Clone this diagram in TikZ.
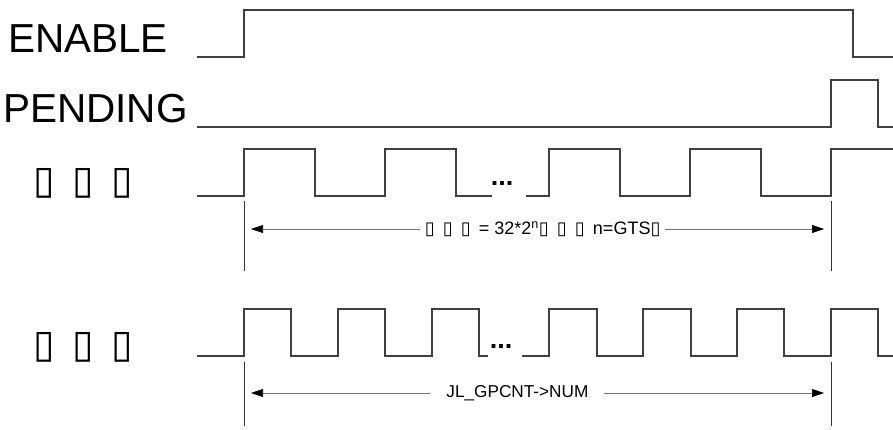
\documentclass[tikz,border=0pt]{standalone}
\usepackage{fontspec}
\setmainfont{Liberation Sans}
\newfontfamily\symfont{DejaVu Sans}
\usetikzlibrary{arrows.meta}
% placeholder glyph, as the chart prints it
\newcommand{\tofu}{\makebox[1em][l]{\symfont ▯}}
\tikzset{
  % signal traces
  wave/.style={draw=black!75, line width=1.3pt},
  % vertical markers
  marker/.style={draw=black!80, line width=1pt},
  % interval arrows
  spanarrow/.style={draw=black!55, line width=0.6pt,
    {Triangle[length=12pt,width=8pt,color=black]}-{Triangle[length=12pt,width=8pt,color=black]}},
  sig/.style={font=\fontsize{40.5}{40.5}\selectfont, anchor=base west, inner sep=0pt},
  note/.style={font=\fontsize{18}{18}\selectfont, fill=white, inner xsep=5pt, inner ysep=2pt},
  dots/.style={font=\fontsize{27}{27}\selectfont\bfseries, anchor=base, inner sep=0pt},
}
\begin{document}
\begin{tikzpicture}[x=1pt, y=-1pt]
  \useasboundingbox (0,0) rectangle (893,429);

  % signal names
  \node[sig] (enable) at (8,52) {ENABLE};
  \node[sig] (pending) at (3,122) {PENDING};
  \node[sig, font=\fontsize{39}{39}\selectfont] (clka) at (33,193) {\tofu\tofu\tofu};
  \node[sig, font=\fontsize{39}{39}\selectfont] (clkb) at (33,357) {\tofu\tofu\tofu};

  % ENABLE and PENDING
  \draw[wave] (197,57) -| (244,10) -| (853,57) -- (893,57);
  \draw[wave] (197,127) -| (831,80) -| (878,127) -- (893,127);

  % slow clock
  \draw[wave] (197,196) -| (244,149) -| (315,196) -| (385,149) -| (456,196) -- (492,196);
  \draw[wave] (526,196) -| (549,149) -| (620,196) -| (690,149) -| (761,196) -| (831,149) -- (893,149);
  \node[dots] (dotsa) at (502,185) {...};

  % fast clock
  \draw[wave] (197,356) -| (244,309) -| (291,356) -| (338,309) -| (385,356) -| (432,309) -| (479,356) -- (488,356);
  \draw[wave] (522,356) -| (549,309) -| (597,356) -| (643,309) -| (691,356) -| (737,309) -| (784,356) -| (831,309) -| (878,356) -- (893,356);
  \node[dots] (dotsb) at (501,348) {...};

  % markers
  \coordinate (m1t) at (244,201);
  \coordinate (m1b) at (244,271);
  \coordinate (m2t) at (831,201);
  \coordinate (m2b) at (831,271);
  \coordinate (m3t) at (244,362);
  \coordinate (m3b) at (244,426);
  \coordinate (m4t) at (831,362);
  \coordinate (m4b) at (831,426);
  \draw[marker] (m1t) -- (m1b);
  \draw[marker] (m2t) -- (m2b);
  \draw[marker] (m3t) -- (m3b);
  \draw[marker] (m4t) -- (m4b);

  % intervals
  \coordinate (a1l) at (251,229);
  \coordinate (a1r) at (824,229);
  \coordinate (a2l) at (251,393);
  \coordinate (a2r) at (824,393);
  \draw[spanarrow] (a1l) -- node[note, pos=0.509] {\tofu\tofu\tofu= 32*2\textsuperscript{n}\tofu\tofu\tofu n=GTS{\symfont ▯}} (a1r);
  \draw[spanarrow] (a2l) -- node[note, pos=0.465, inner xsep=16pt, font=\fontsize{17.2}{17.2}\selectfont] {JL\_GPCNT->NUM} (a2r);
\end{tikzpicture}
\end{document}
